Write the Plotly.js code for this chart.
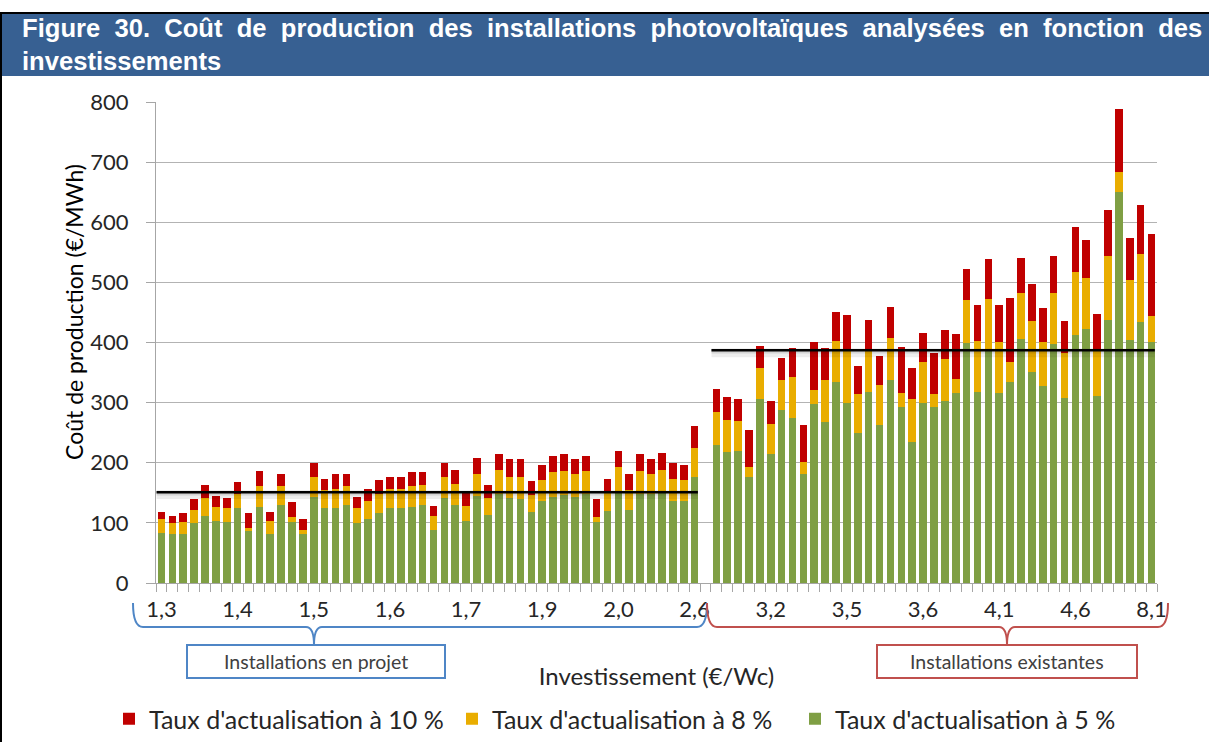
<!DOCTYPE html>
<html>
<head>
<meta charset="utf-8">
<script src="https://cdn.plot.ly/plotly-3.0.1.min.js"></script>
<style>
  html, body { margin: 0; padding: 0; background: #ffffff; }
  #chart { width: 1209px; height: 742px; }
</style>
</head>
<body>
<div id="chart"></div>
<script>
// ---------------- DATA ----------------
const tickLabels = ['1,3', '1,4', '1,5', '1,6', '1,7', '1,9', '2,0', '2,6', '3,2', '3,5', '3,6', '4,1', '4,6', '8,1'];
const tickStep = 7; // one label every 7 installations

// Installations en projet : coût de production (€/MWh) selon le taux d'actualisation
const projet5  = [83, 82, 82, 99, 112, 103, 101, 124, 86, 127, 82, 129, 101, 82, 143, 124, 124, 130, 99, 106, 116, 124, 124, 127, 130, 88, 142, 130, 103, 145, 113, 148, 142, 139, 118, 137, 143, 146, 143, 148, 101, 120, 152, 122, 148, 148, 149, 136, 137, 176];
const projet8  = [106, 99, 101, 122, 142, 126, 124, 148, 92, 161, 103, 161, 110, 88, 176, 154, 157, 161, 124, 136, 148, 156, 156, 161, 163, 112, 176, 165, 128, 182, 142, 188, 177, 177, 147, 171, 184, 187, 182, 187, 109, 151, 193, 155, 187, 182, 188, 173, 171, 224];
const projet10 = [118, 111, 116, 139, 163, 144, 141, 168, 116, 186, 118, 182, 135, 107, 199, 173, 182, 182, 143, 156, 171, 177, 177, 184, 184, 128, 199, 188, 152, 208, 163, 214, 206, 206, 169, 197, 212, 214, 207, 212, 139, 173, 220, 182, 214, 207, 216, 200, 197, 261];

// Installations existantes
const exist5  = [229, 218, 220, 176, 306, 214, 287, 274, 182, 297, 267, 335, 300, 250, 318, 263, 338, 293, 235, 299, 293, 303, 316, 399, 318, 390, 316, 335, 406, 351, 327, 398, 308, 413, 422, 311, 438, 651, 404, 434, 401];
const exist8  = [284, 271, 269, 193, 357, 265, 338, 342, 201, 321, 338, 403, 386, 314, 386, 329, 408, 316, 306, 367, 314, 372, 339, 471, 403, 473, 401, 367, 483, 436, 401, 483, 383, 517, 508, 388, 544, 683, 504, 547, 444];
const exist10 = [323, 309, 306, 254, 395, 303, 374, 391, 263, 401, 391, 450, 445, 361, 437, 378, 459, 393, 357, 416, 382, 421, 414, 522, 462, 539, 463, 474, 540, 498, 457, 544, 436, 592, 570, 448, 621, 788, 574, 628, 581];

// Moyennes (traits noirs)
const avgProjet = 151;
const avgExist = 387;

const seriesNames = ["Taux d'actualisation à 5 %", "Taux d'actualisation à 8 %", "Taux d'actualisation à 10 %"];
const groupNames = ['Installations en projet', 'Installations existantes'];
const titleLine1 = ['Figure', '30.', 'Coût', 'de', 'production', 'des', 'installations', 'photovoltaïques', 'analysées', 'en', 'fonction', 'des'];
const titleLine2 = 'investissements';

// ---------------- BUILD ----------------
const nP = projet5.length;
const projetX = projet5.map((_, i) => i);
const existX = exist5.map((_, i) => i + nP + 1); // one empty slot between the groups
const allX = projetX.concat(existX);
const nCat = nP + 1 + exist5.length;

const v5 = projet5.concat(exist5);
const v8 = projet8.concat(exist8);
const v10 = projet10.concat(exist10);
const seg8 = v8.map((v, i) => v - v5[i]);
const seg10 = v10.map((v, i) => v - v8[i]);

const GREEN = '#7f9f44', YELLOW = '#e9ad00', RED = '#c00000';
const FONT = 'Lato, Carlito, "Open Sans", sans-serif';

const barCommon = { type: 'bar', x: allX, hoverinfo: 'skip', marker: { line: { width: 0 } } };
const traces = [
  Object.assign({}, barCommon, { name: seriesNames[0], y: v5, marker: { color: GREEN } }),
  Object.assign({}, barCommon, { name: seriesNames[1], y: seg8, marker: { color: YELLOW } }),
  Object.assign({}, barCommon, { name: seriesNames[2], y: seg10, marker: { color: RED } })
];

function avgLine(xs, val) {
  const xr = [xs[0] - 0.45, xs[xs.length - 1] + 0.3];
  return [
    { type: 'scatter', mode: 'lines', x: xr, y: [val - 4, val - 4], line: { color: 'rgba(0,0,0,0.07)', width: 9 }, showlegend: false, hoverinfo: 'skip' },
    { type: 'scatter', mode: 'lines', x: xr, y: [val - 2, val - 2], line: { color: 'rgba(0,0,0,0.10)', width: 4 }, showlegend: false, hoverinfo: 'skip' },
    { type: 'scatter', mode: 'lines', x: xr, y: [val, val], line: { color: '#000000', width: 2.5 }, showlegend: false, hoverinfo: 'skip' }
  ];
}
traces.push(...avgLine(projetX, avgProjet), ...avgLine(existX, avgExist));

// pixel -> paper helpers (plot area: x 156..1157, y 102..583)
const ML = 156, MR = 52, MT = 102, MB = 159, WW = 1209, HH = 742;
const PW = WW - ML - MR, PH = HH - MT - MB;
const px = x => (x - ML) / PW;
const py = y => (HH - MB - y) / PH;
const P = (x, y) => px(x).toFixed(5) + ',' + py(y).toFixed(5);

function brace(x0, x1, xm, yTop, yLine, yTip) {
  return 'M ' + P(x0, yTop) + ' Q ' + P(x0, yLine) + ' ' + P(x0 + 10, yLine) +
         ' L ' + P(xm - 8, yLine) + ' Q ' + P(xm, yLine) + ' ' + P(xm, yTip) +
         ' Q ' + P(xm, yLine) + ' ' + P(xm + 8, yLine) +
         ' L ' + P(x1 - 10, yLine) + ' Q ' + P(x1, yLine) + ' ' + P(x1, yTop);
}

const BLUE_B = '#4f86c6', RED_B = '#c0504d';
const shapes = [
  // title band
  { type: 'rect', xref: 'paper', yref: 'paper', x0: px(1), x1: px(1212), y0: py(76), y1: py(13), fillcolor: '#376092', line: { width: 0 }, layer: 'below' },
  // outer frame
  { type: 'rect', xref: 'paper', yref: 'paper', x0: px(1), x1: px(1215), y0: py(760), y1: py(13), line: { color: '#000000', width: 2 }, fillcolor: 'rgba(0,0,0,0)' },
  // braces
  { type: 'path', xref: 'paper', yref: 'paper', path: brace(133, 707, 314, 603, 627, 645), line: { color: BLUE_B, width: 2 } },
  { type: 'path', xref: 'paper', yref: 'paper', path: brace(707, 1168, 1007, 603, 627, 645), line: { color: RED_B, width: 2 } },
  // boxes
  { type: 'rect', xref: 'paper', yref: 'paper', x0: px(187), x1: px(445), y0: py(678), y1: py(645), line: { color: BLUE_B, width: 2 }, fillcolor: '#ffffff' },
  { type: 'rect', xref: 'paper', yref: 'paper', x0: px(877), x1: px(1137), y0: py(678), y1: py(645), line: { color: RED_B, width: 2 }, fillcolor: '#ffffff' }
];

const annotations = [
  { xref: 'paper', yref: 'paper', x: px(316), y: py(661.5), text: groupNames[0], showarrow: false, font: { family: FONT, size: 19.5, color: '#404040' }, xanchor: 'center', yanchor: 'middle' },
  { xref: 'paper', yref: 'paper', x: px(1007), y: py(661.5), text: groupNames[1], showarrow: false, font: { family: FONT, size: 19.5, color: '#404040' }, xanchor: 'center', yanchor: 'middle' },
  { xref: 'paper', yref: 'paper', x: px(74), y: py(312), text: 'Coût de production (€/MWh)', textangle: -90, showarrow: false, font: { family: FONT, size: 23, color: '#000000' }, xanchor: 'center', yanchor: 'middle' }
];

const tickvals = tickLabels.map((_, i) => i * tickStep);
const gap = ' \u00a0';

const layout = {
  width: WW, height: HH,
  margin: { l: ML, r: MR, t: MT, b: MB, pad: 0, autoexpand: false },
  paper_bgcolor: '#ffffff', plot_bgcolor: '#ffffff',
  font: { family: FONT, color: '#262626' },
  barmode: 'stack', bargap: 0.3,
  title: {
    text: '<b>' + titleLine1.join(gap) + '</b><br><b>' + titleLine2 + '</b>',
    font: { family: '"Liberation Sans", Arial, sans-serif', size: 25.6, color: '#ffffff' },
    xref: 'container', x: 22 / WW, xanchor: 'left',
    yref: 'container', y: 1 - 37 / HH, yanchor: 'middle'
  },
  xaxis: {
    type: 'linear', range: [-0.5, nCat - 0.5], autorange: false,
    tickmode: 'array', tickvals: tickvals, ticktext: tickLabels,
    ticks: 'outside', ticklen: 7, tickcolor: 'rgba(0,0,0,0)',
    tickfont: { family: FONT, size: 22, color: '#262626' },
    minor: { tick0: -0.5, dtick: 1, ticks: 'outside', ticklen: 8, tickcolor: '#a6a6a6', tickwidth: 1, showgrid: false },
    showline: true, linecolor: '#a6a6a6', linewidth: 1,
    showgrid: false, zeroline: false, automargin: false,
    title: { text: 'Investissement (€/Wc)', font: { family: FONT, size: 24, color: '#262626' }, standoff: 46 }
  },
  yaxis: {
    range: [0, 800], autorange: false, dtick: 100, tick0: 0,
    ticks: 'outside', ticklen: 9, tickcolor: '#a6a6a6',
    tickfont: { family: FONT, size: 22, color: '#262626' },
    ticklabelstandoff: 13,
    showline: true, linecolor: '#a6a6a6', linewidth: 1,
    showgrid: true, gridcolor: '#b3b3b3', gridwidth: 1,
    zeroline: false, automargin: false
  },
  legend: {
    orientation: 'h', traceorder: 'reversed',
    x: px(109), xanchor: 'left', y: py(719), yanchor: 'middle',
    font: { family: FONT, size: 25, color: '#262626' },
    entrywidth: 298, entrywidthmode: 'pixels', itemwidth: 30,
    bgcolor: 'rgba(0,0,0,0)'
  },
  shapes: shapes,
  annotations: annotations
};

Plotly.newPlot('chart', traces, layout, { displayModeBar: false, staticPlot: true });
</script>
</body>
</html>
